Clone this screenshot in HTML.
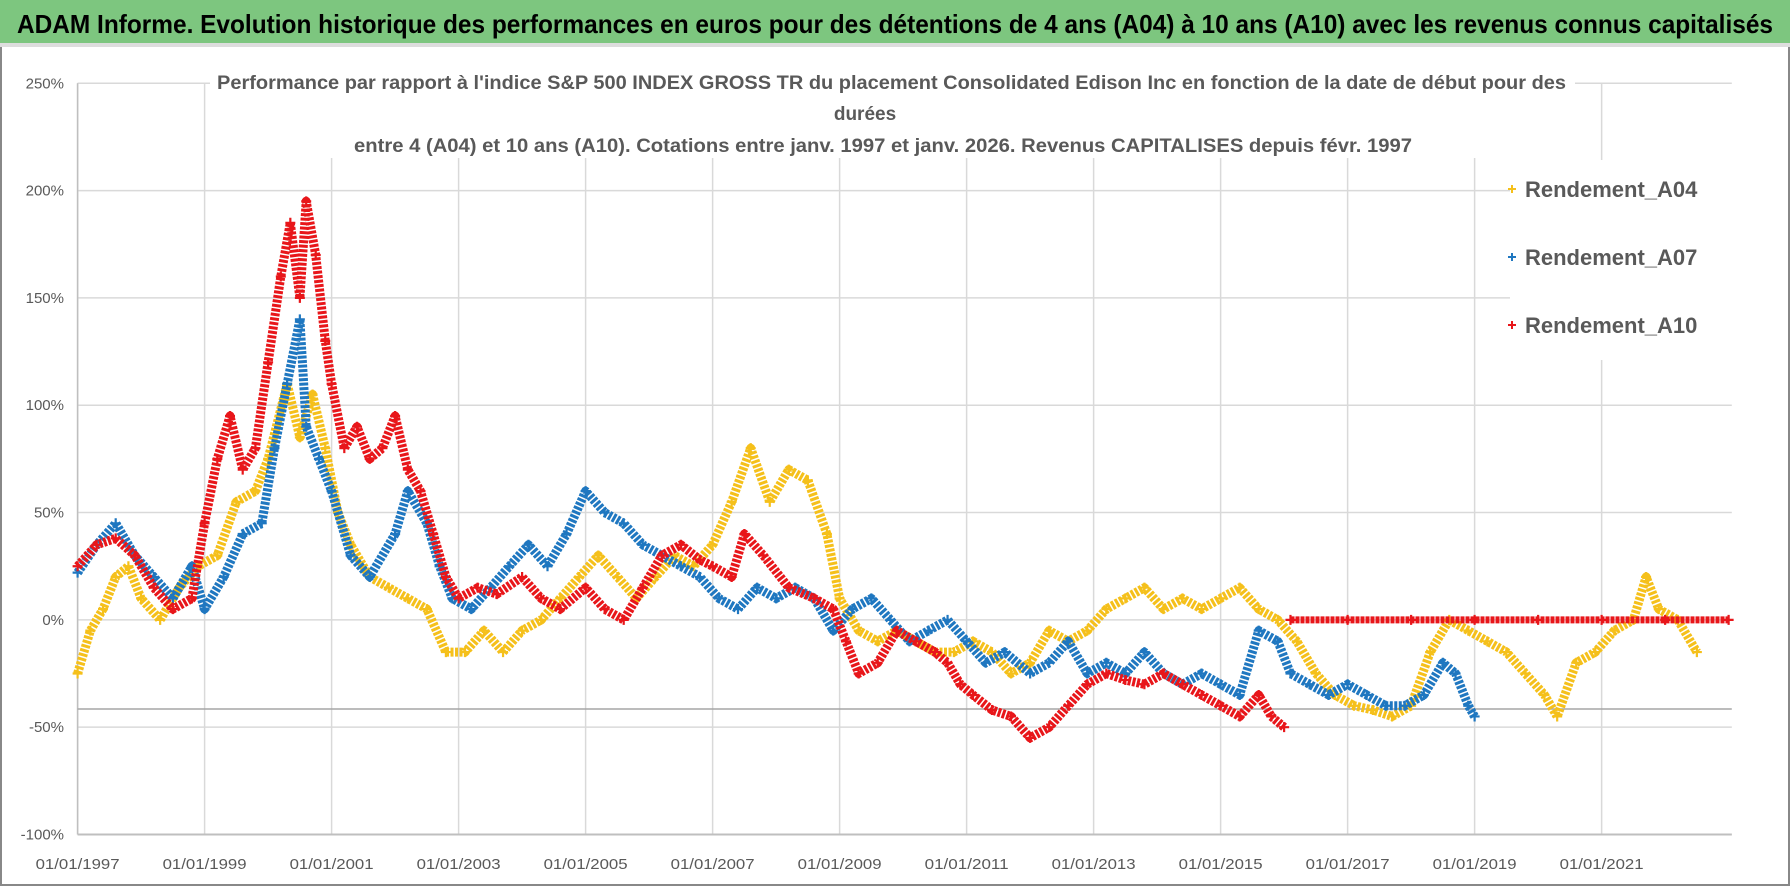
<!DOCTYPE html>
<html><head><meta charset="utf-8"><style>
html,body{margin:0;padding:0;background:#fff;}
svg{display:block;font-family:"Liberation Sans Narrow","Liberation Sans",sans-serif;}
</style></head><body>
<svg id="chart" width="1790" height="886" viewBox="0 0 1790 886">
<rect x="0" y="0" width="1790" height="886" fill="#fff"/>
<rect x="1" y="1" width="1788" height="884" fill="none" stroke="#888" stroke-width="2"/>
<rect x="0" y="0" width="1790" height="43" fill="#7dc67f"/>
<rect x="0" y="43" width="1790" height="4" fill="#ddd"/>
<text x="17" y="33" font-size="26" font-weight="bold" fill="#000" textLength="1756" lengthAdjust="spacingAndGlyphs">ADAM Informe. Evolution historique des performances en euros pour des détentions de 4 ans (A04) à 10 ans (A10) avec les revenus connus capitalisés</text>
<g id="grid"></g>
<g id="series"></g>
<rect x="1510" y="160" width="268" height="200" fill="#fff"/>
<g font-weight="bold" fill="#595959" font-size="19">
<rect x="210" y="64" width="1365" height="94" fill="#fff"/>
<text x="217" y="89" textLength="1349" lengthAdjust="spacingAndGlyphs">Performance par rapport à l'indice S&amp;P 500 INDEX GROSS TR  du placement Consolidated Edison Inc en fonction de la date de début pour des</text>
<text x="865" y="120" text-anchor="middle">durées</text>
<text x="354" y="152" textLength="1058" lengthAdjust="spacingAndGlyphs">entre 4 (A04) et 10 ans (A10). Cotations entre janv. 1997 et janv. 2026. Revenus CAPITALISES depuis févr. 1997</text>
</g>
<g id="legend" font-weight="bold" fill="#595959" font-size="22"></g>
</svg>
<script>
const yTicks=[250,200,150,100,50,0,-50,-100];
const yTickLabels=["250%","200%","150%","100%","50%","0%","-50%","-100%"];
const xTicks=[1997,1999,2001,2003,2005,2007,2009,2011,2013,2015,2017,2019,2021];
const xTickLabels=["01/01/1997","01/01/1999","01/01/2001","01/01/2003","01/01/2005","01/01/2007","01/01/2009","01/01/2011","01/01/2013","01/01/2015","01/01/2017","01/01/2019","01/01/2021"];
const seriesNames=["Rendement_A04","Rendement_A07","Rendement_A10"];
const a04Dates=[1997.0,1997.2,1997.4,1997.6,1997.8,1998.0,1998.3,1998.6,1998.9,1999.2,1999.5,1999.8,2000.0,2000.3,2000.5,2000.7,2000.9,2001.1,2001.3,2001.6,2001.9,2002.2,2002.5,2002.8,2003.1,2003.4,2003.7,2004.0,2004.3,2004.6,2004.9,2005.2,2005.5,2005.8,2006.1,2006.4,2006.7,2007.0,2007.3,2007.6,2007.9,2008.2,2008.5,2008.8,2009.0,2009.3,2009.6,2009.9,2010.2,2010.5,2010.8,2011.1,2011.4,2011.7,2012.0,2012.3,2012.6,2012.9,2013.2,2013.5,2013.8,2014.1,2014.4,2014.7,2015.0,2015.3,2015.6,2015.9,2016.2,2016.5,2016.8,2017.1,2017.4,2017.7,2018.0,2018.3,2018.6,2018.9,2019.2,2019.5,2019.8,2020.1,2020.3,2020.6,2020.9,2021.2,2021.5,2021.7,2021.9,2022.2,2022.5];
const a04Values=[-25,-5,5,20,25,10,0,15,25,30,55,60,75,110,85,105,80,50,35,20,15,10,5,-15,-15,-5,-15,-5,0,10,20,30,20,10,20,30,25,35,55,80,55,70,65,40,10,-5,-10,-5,-10,-15,-15,-10,-15,-25,-20,-5,-10,-5,5,10,15,5,10,5,10,15,5,0,-10,-25,-35,-40,-42,-45,-40,-15,0,-5,-10,-15,-25,-35,-45,-20,-15,-5,0,20,5,0,-15];
const a07Dates=[1997.0,1997.3,1997.6,1997.9,1998.2,1998.5,1998.8,1999.0,1999.3,1999.6,1999.9,2000.1,2000.3,2000.5,2000.6,2000.8,2001.0,2001.3,2001.6,2002.0,2002.2,2002.5,2002.7,2002.9,2003.2,2003.5,2003.8,2004.1,2004.4,2004.7,2005.0,2005.3,2005.6,2005.9,2006.2,2006.5,2006.8,2007.1,2007.4,2007.7,2008.0,2008.3,2008.6,2008.9,2009.2,2009.5,2009.8,2010.1,2010.4,2010.7,2011.0,2011.3,2011.6,2012.0,2012.3,2012.6,2012.9,2013.2,2013.5,2013.8,2014.1,2014.4,2014.7,2015.0,2015.3,2015.6,2015.9,2016.1,2016.4,2016.7,2017.0,2017.3,2017.6,2017.9,2018.2,2018.5,2018.7,2018.9,2019.0];
const a07Values=[22,35,45,30,20,10,25,5,20,40,45,80,110,140,90,75,60,30,20,40,60,45,25,10,5,15,25,35,25,40,60,50,45,35,30,25,20,10,5,15,10,15,10,-5,5,10,0,-10,-5,0,-10,-20,-15,-25,-20,-10,-25,-20,-25,-15,-25,-30,-25,-30,-35,-5,-10,-25,-30,-35,-30,-35,-40,-40,-35,-20,-25,-40,-45];
const a10Dates=[1997.0,1997.3,1997.6,1997.9,1998.2,1998.5,1998.8,1999.0,1999.2,1999.4,1999.6,1999.8,2000.0,2000.2,2000.35,2000.5,2000.6,2000.75,2000.9,2001.0,2001.2,2001.4,2001.6,2001.8,2002.0,2002.2,2002.4,2002.6,2002.8,2003.0,2003.3,2003.6,2004.0,2004.3,2004.6,2005.0,2005.3,2005.6,2005.9,2006.2,2006.5,2006.8,2007.0,2007.3,2007.5,2007.8,2008.2,2008.6,2008.9,2009.1,2009.3,2009.6,2009.9,2010.2,2010.5,2010.7,2010.9,2011.1,2011.4,2011.7,2012.0,2012.3,2012.6,2012.9,2013.2,2013.5,2013.8,2014.1,2014.4,2014.7,2015.0,2015.3,2015.6,2015.8,2016.0];
const a10Values=[25,35,38,30,15,5,10,45,75,95,70,80,120,160,185,150,195,170,130,110,80,90,75,80,95,70,60,40,20,10,15,12,20,10,5,15,5,0,15,30,35,28,25,20,40,30,15,10,5,-10,-25,-20,-5,-10,-15,-20,-30,-35,-42,-45,-55,-50,-40,-30,-25,-28,-30,-25,-30,-35,-40,-45,-35,-45,-50];
const a10FlatDates=[2016.1,2017.0,2018.0,2019.0,2020.0,2021.0,2022.0,2023.0];
const a10FlatValues=[0,0,0,0,0,0,0,0];
const seriesDates=[a04Dates,a07Dates,a10Dates,a10FlatDates];
const seriesValues=[a04Values,a07Values,a10Values,a10FlatValues];
const colors=["#f5c01b","#1f77c0","#e8161a","#e8161a"];
const seriesKeys=["rendement-a04","rendement-a07","rendement-a10","rendement-a10-flat"];

const NS="http://www.w3.org/2000/svg";
const X0=77.6,X1=1731.8,T0=1997,T1=2023.05;
const Y0=834.5,Y1=83.3,V0=-100,V1=250;
function xs(t){return X0+(t-T0)/(T1-T0)*(X1-X0);}
function ys(v){return Y0+(v-V0)/(V1-V0)*(Y1-Y0);}
function mk(tag,attrs,parent){const e=document.createElementNS(NS,tag);for(const k in attrs)e.setAttribute(k,attrs[k]);parent.appendChild(e);return e;}
const grid=document.getElementById('grid');
yTicks.forEach((v,i)=>{
  const l=mk('line',{x1:X0,x2:X1,y1:ys(v),y2:ys(v),stroke:'#d9d9d9','stroke-width':1.5},grid);
  
  
  const t=mk('text',{x:64,y:ys(v)+5,'text-anchor':'end','font-size':15,fill:'#595959'},grid);
  t.textContent=yTickLabels[i];
  
  
});
xTicks.forEach((d,i)=>{
  const l=mk('line',{x1:xs(d),x2:xs(d),y1:Y1,y2:Y0,stroke:'#d9d9d9','stroke-width':1.5},grid);
  
  
  const t=mk('text',{x:xs(d),y:869,'text-anchor':'middle','font-size':15,fill:'#595959',textLength:84,lengthAdjust:'spacingAndGlyphs'},grid);
  t.textContent=xTickLabels[i];
  
  
});
const axl=mk('line',{x1:X0,x2:X0,y1:Y1,y2:Y0,stroke:'#bfbfbf','stroke-width':1.5},grid);


const axb=mk('line',{x1:X0,x2:X1,y1:Y0,y2:Y0,stroke:'#bfbfbf','stroke-width':2},grid);


const ref=mk('line',{x1:X0,x2:X1,y1:ys(-41.5),y2:ys(-41.5),stroke:'#a6a6a6','stroke-width':1.5},grid);



const sg=document.getElementById('series');
seriesValues.forEach((vals,s)=>{
  const dates=seriesDates[s];
  const g=mk('g',{},sg);
  
  
  const pts=vals.map((v,i)=>xs(dates[i]).toFixed(1)+','+ys(v).toFixed(1)).join(' ');
  const pl=mk('polyline',{points:pts,fill:'none',stroke:colors[s],'stroke-width':s===3?7:9,'stroke-linejoin':'round','stroke-dasharray':s===3?'4 1':'3 1.5'},g);
  
  
  vals.forEach((v,i)=>{
    const x=xs(dates[i]),y=ys(v);
    const p=mk('path',{d:`M${x-5},${y}h10M${x},${y-5}v10`,stroke:colors[s],'stroke-width':2.2},g);
    
    
  });
});
const lg=document.getElementById('legend');
[197,265,333].forEach((y,i)=>{
  const e=mk('g',{},lg);
  
  
  mk('path',{d:`M${1508},${y-8}h8M${1512},${y-12}v8`,stroke:colors[i],'stroke-width':2},e);
  const t=mk('text',{x:1525,y:y},e);
  t.textContent=seriesNames[i];
});
</script>
</body></html>
